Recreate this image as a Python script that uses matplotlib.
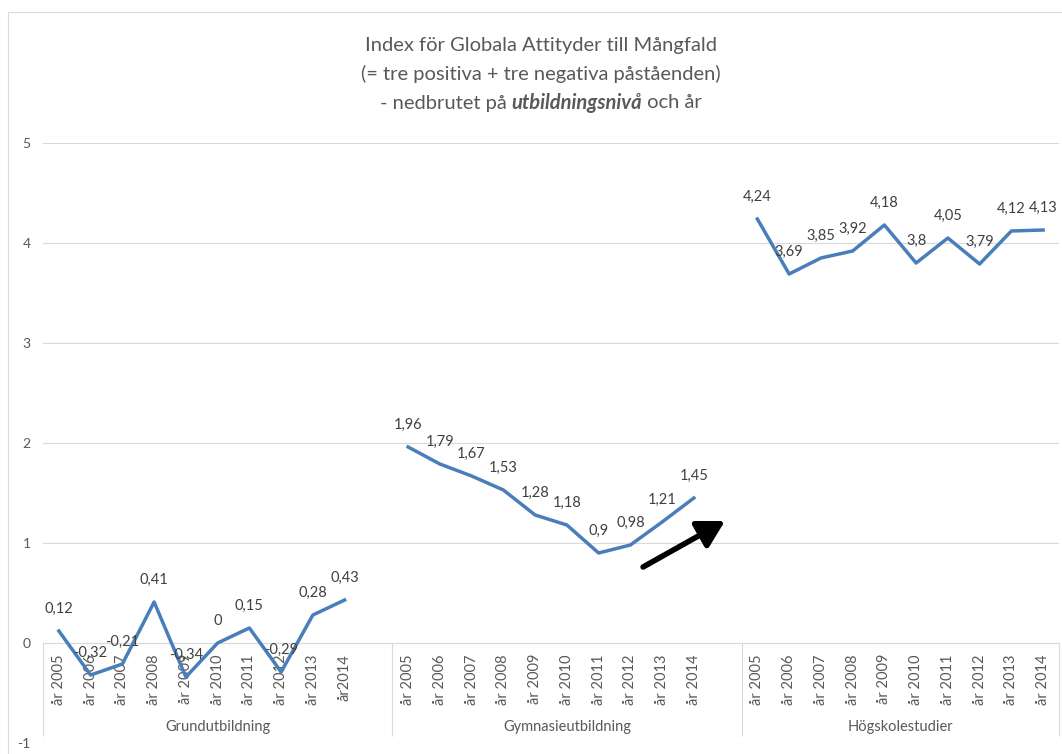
import matplotlib
matplotlib.use('Agg')
import matplotlib.pyplot as plt
from matplotlib.patches import Rectangle
import numpy as np

plt.rcParams['font.family'] = ['Lato', 'DejaVu Sans']
plt.rcParams['axes.unicode_minus'] = False

# data
groups = ['Grundutbildning', 'Gymnasieutbildning', 'Högskolestudier']
years = ['år 2005', 'år 2006', 'år 2007', 'år 2008', 'år 2009',
         'år 2010', 'år 2011', 'år 2012', 'år 2013', 'år 2014']
years_grund = years[:-1] + ['år2014']
grund = [0.12, -0.32, -0.21, 0.41, -0.34, 0, 0.15, -0.29, 0.28, 0.43]
gymn = [1.96, 1.79, 1.67, 1.53, 1.28, 1.18, 0.9, 0.98, 1.21, 1.45]
hogsk = [4.24, 3.69, 3.85, 3.92, 4.18, 3.8, 4.05, 3.79, 4.12, 4.13]
series = [grund, gymn, hogsk]
ticklabels = [years_grund, years, years]

grey = '#595959'
lgrey = '#d9d9d9'
blue = '#4a7ebb'

fig = plt.figure(figsize=(10.62, 7.54), dpi=100)
ax = fig.add_axes([43/1062, 11/754, 1016/1062, 600/754])
for s in ['top', 'right', 'left']:
    ax.spines[s].set_visible(False)
ax.spines['bottom'].set_position(('data', 0))
ax.spines['bottom'].set_color(lgrey)
ax.spines['bottom'].set_linewidth(0.8)

slot = 11  # 10 years + one empty category between groups
xt, xl = [], []
for g, vals in enumerate(series):
    xs = np.arange(len(vals)) + g*slot
    ax.plot(xs, vals, color=blue, lw=2.5, zorder=3)
    for x, v in zip(xs, vals):
        ax.annotate(f'{v:g}'.replace('.', ','), (x, v), xytext=(0, 13),
                    textcoords='offset points', ha='center', va='baseline',
                    fontsize=10.5, color='#404040', zorder=4)
    xt += list(xs)
    xl += ticklabels[g]

n_last = len(series[-1])
ax.set_xlim(-0.5, 2*slot + n_last - 0.5)
ax.set_ylim(-1, 5)
ax.set_yticks(range(-1, 6))
ax.set_xticks(xt)
ax.set_xticklabels(xl)
ax.tick_params(axis='x', length=0, pad=8, labelsize=10.5, labelcolor=grey,
               labelrotation=90)
ax.tick_params(axis='y', length=0, pad=9, labelsize=10, labelcolor=grey)
ax.yaxis.grid(True, color=lgrey, lw=0.8)
ax.set_axisbelow(True)

# group separators and group labels
edges = [-0.5, slot - 0.5, 2*slot - 0.5, 2*slot + n_last - 0.5]
ax.vlines(edges, -0.93, 0, color=lgrey, lw=0.8, clip_on=False)
for g, name in enumerate(groups):
    ax.text((edges[g] + edges[g+1]) / 2, -0.84, name, ha='center', va='center',
            fontsize=10.5, color=grey)

# arrow
arrow_from = (18.4, 0.76)
arrow_to = (20.98, 1.22)
ax.annotate('', xy=arrow_to, xytext=arrow_from,
            arrowprops=dict(arrowstyle='-|>,head_length=0.8,head_width=0.45',
                            lw=4, color='black', shrinkA=0, shrinkB=0,
                            mutation_scale=20), zorder=5)

# chart border
fig.patches.append(Rectangle((8/1062, -0.1), 1.1, 1.084, transform=fig.transFigure,
                             fill=False, ec=lgrey, lw=0.8))

# title
tx = 541/1062
tsize = 14.5
fig.text(tx, 1 - 45/754, 'Index för Globala Attityder till Mångfald', ha='center',
         va='center', fontsize=tsize, color=grey)
fig.text(tx, 1 - 74/754, '(= tre positiva + tre negativa påståenden)', ha='center',
         va='center', fontsize=tsize, color=grey)
parts = [('- nedbrutet på ', 'normal', 'normal'),
         ('utbildningsnivå', 'bold', 'italic'),
         (' och år', 'normal', 'normal')]
r = fig.canvas.get_renderer()
objs = []
for s, w, st in parts:
    t = fig.text(0, 1 - 103/754, s, ha='left', va='center', fontsize=tsize,
                 color=grey, fontweight=w, fontstyle=st)
    objs.append(t)
widths = [t.get_window_extent(r).width / fig.bbox.width for t in objs]
x0 = tx - sum(widths) / 2
for t, w in zip(objs, widths):
    t.set_x(x0)
    x0 += w

fig.savefig('out.png', dpi=100)
